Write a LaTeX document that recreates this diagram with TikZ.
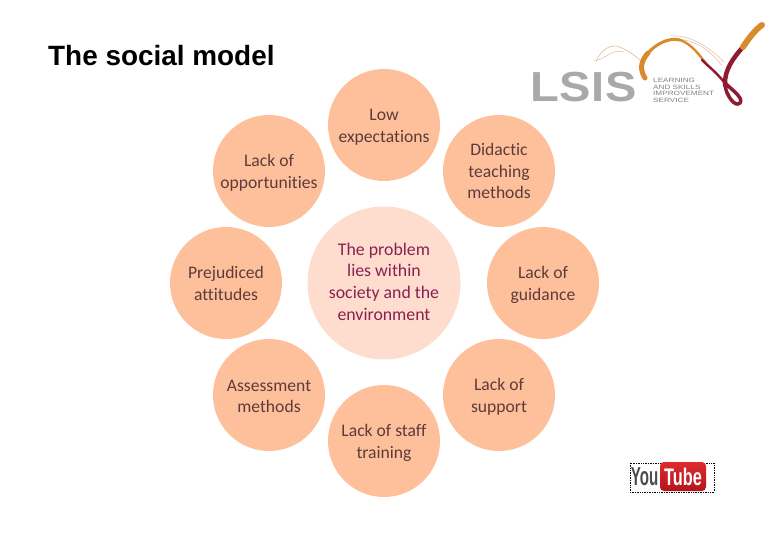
\documentclass[tikz,border=0pt]{standalone}
\usepackage{fontspec}
\setmainfont[Ligatures=NoCommon,Contextuals=NoAlternate]{Carlito}
\newfontfamily\titlefont{Liberation Sans}
\definecolor{petal}{HTML}{FDC09B}
\definecolor{core}{HTML}{FEDDCE}
\definecolor{petaltext}{HTML}{5E3B3B}
\definecolor{coretext}{HTML}{8A2050}
\definecolor{lsisgrey}{HTML}{A9A9AB}
\definecolor{swooshorange}{HTML}{D98A2B}
\definecolor{swooshred}{HTML}{8E1B33}
\definecolor{swooshtan}{HTML}{DDBE9C}
\definecolor{ytredtop}{HTML}{DD2C2C}
\definecolor{ytredbottom}{HTML}{B5141C}
\tikzset{
  x=1pt,y=-1pt,
  petalnode/.style={circle,fill=petal,minimum size=112pt,inner sep=0pt},
  corenode/.style={circle,fill=core,minimum size=153pt,inner sep=0pt},
  petaltextstyle/.style={inner sep=0pt,align=center,text=petaltext,font=\fontsize{17.6}{21.8}\selectfont},
  coretextstyle/.style={inner sep=0pt,align=center,text=coretext,font=\fontsize{17.8}{21.6}\selectfont},
  swoosh/.style={line cap=round,line join=round}
}
\begin{document}
\begin{tikzpicture}
\useasboundingbox (0,0) rectangle (780,540);
\fill[white] (0,0) rectangle (780,540);
\node[anchor=west,inner sep=0pt,font=\titlefont\bfseries\fontsize{27.9}{30}\selectfont] (title) at (48,55.5) {The social model};
\node[corenode,label={[coretextstyle,yshift=1.5pt]center:The problem\\lies within\\society and the\\environment}] (core) at (384,283) {};
\node[petalnode,label={[petaltextstyle,yshift=-2pt]center:Low\\expectations}] (p1) at (384,125) {};
\node[petalnode,label={[petaltextstyle,yshift=0pt]center:Didactic\\teaching\\methods}] (p2) at (499,171) {};
\node[petalnode,label={[petaltextstyle,yshift=-2pt]center:Lack of\\guidance}] (p3) at (543,283) {};
\node[petalnode,label={[petaltextstyle,yshift=-2pt]center:Lack of\\support}] (p4) at (499,395) {};
\node[petalnode,label={[petaltextstyle,yshift=-2pt]center:Lack of staff\\training}] (p5) at (384,441) {};
\node[petalnode,label={[petaltextstyle,yshift=-1.5pt]center:Assessment\\methods}] (p6) at (269,395) {};
\node[petalnode,label={[petaltextstyle,yshift=-0.5pt]center:Prejudiced\\attitudes}] (p7) at (226,283) {};
\node[petalnode,label={[petaltextstyle,yshift=-2pt]center:Lack of\\opportunities}] (p8) at (269,171) {};
% LSIS logo
\draw[swoosh,swooshtan,line width=0.6pt] (596,62) .. controls (600,50) and (612,42) .. (622,48) .. controls (630,52) and (636,56) .. (642,62);
\draw[swoosh,swooshtan,line width=0.5pt] (594,60) .. controls (604,62) and (610,48) .. (624,52);
\draw[swoosh,swooshtan,line width=0.5pt] (670,36) .. controls (690,34) and (710,48) .. (724,62);
\draw[swoosh,swooshtan,line width=0.5pt] (672,39) .. controls (695,38) and (712,52) .. (722,66);
\draw[swoosh,swooshorange,line width=5pt] (645,78) .. controls (640,70) and (640,62) .. (648,53);
\draw[swoosh,swooshorange,line width=3pt] (648,53) .. controls (655,45) and (668,37) .. (680,40);
\draw[swoosh,swooshorange,line width=2.4pt] (680,40) .. controls (692,44) and (700,56) .. (708,66);
\draw[swoosh,swooshred,line width=2.4pt] (702,60) .. controls (708,66) and (716,72) .. (724,82);
\draw[swoosh,swooshred,line width=3.5pt] (724,82) .. controls (732,90) and (744,98) .. (740,103) .. controls (735,108) and (726,95) .. (725,85);
\draw[swoosh,swooshred,line width=4.5pt] (725,85) .. controls (724,70) and (734,57) .. (743,47);
\draw[swoosh,swooshorange,line width=6pt] (743,47) .. controls (749,38) and (755,30) .. (762,25);
\node[inner sep=0pt,text=lsisgrey,font=\titlefont\bfseries\fontsize{42}{42}\selectfont] (lsis) at (583.5,87) {\addfontfeature{FakeStretch=1.12,LetterSpace=1}LSIS};
\node[anchor=west,inner sep=0pt,align=left,text=gray,font=\titlefont\fontsize{6.2}{6.6}\selectfont] (lsistext) at (653,90.5) {\addfontfeature{FakeStretch=1.32}LEARNING\\\addfontfeature{FakeStretch=1.32}AND SKILLS\\\addfontfeature{FakeStretch=1.32}IMPROVEMENT\\\addfontfeature{FakeStretch=1.32}SERVICE};
% YouTube logo
\draw[densely dotted,line width=0.7pt] (630,463) rectangle (714,492);
\node[top color=ytredtop,bottom color=ytredbottom,rounded corners=4pt,minimum width=46pt,minimum height=29pt,inner sep=0pt,text=white,font=\titlefont\bfseries\fontsize{24}{24}\selectfont] (tube) at (683,476.5) {\addfontfeature{FakeStretch=0.68}Tube};
\node[anchor=east,inner sep=0pt,text=black!70,font=\titlefont\bfseries\fontsize{26}{26}\selectfont] (you) at (658.5,477) {\addfontfeature{FakeStretch=0.58}You};
\end{tikzpicture}
\end{document}
